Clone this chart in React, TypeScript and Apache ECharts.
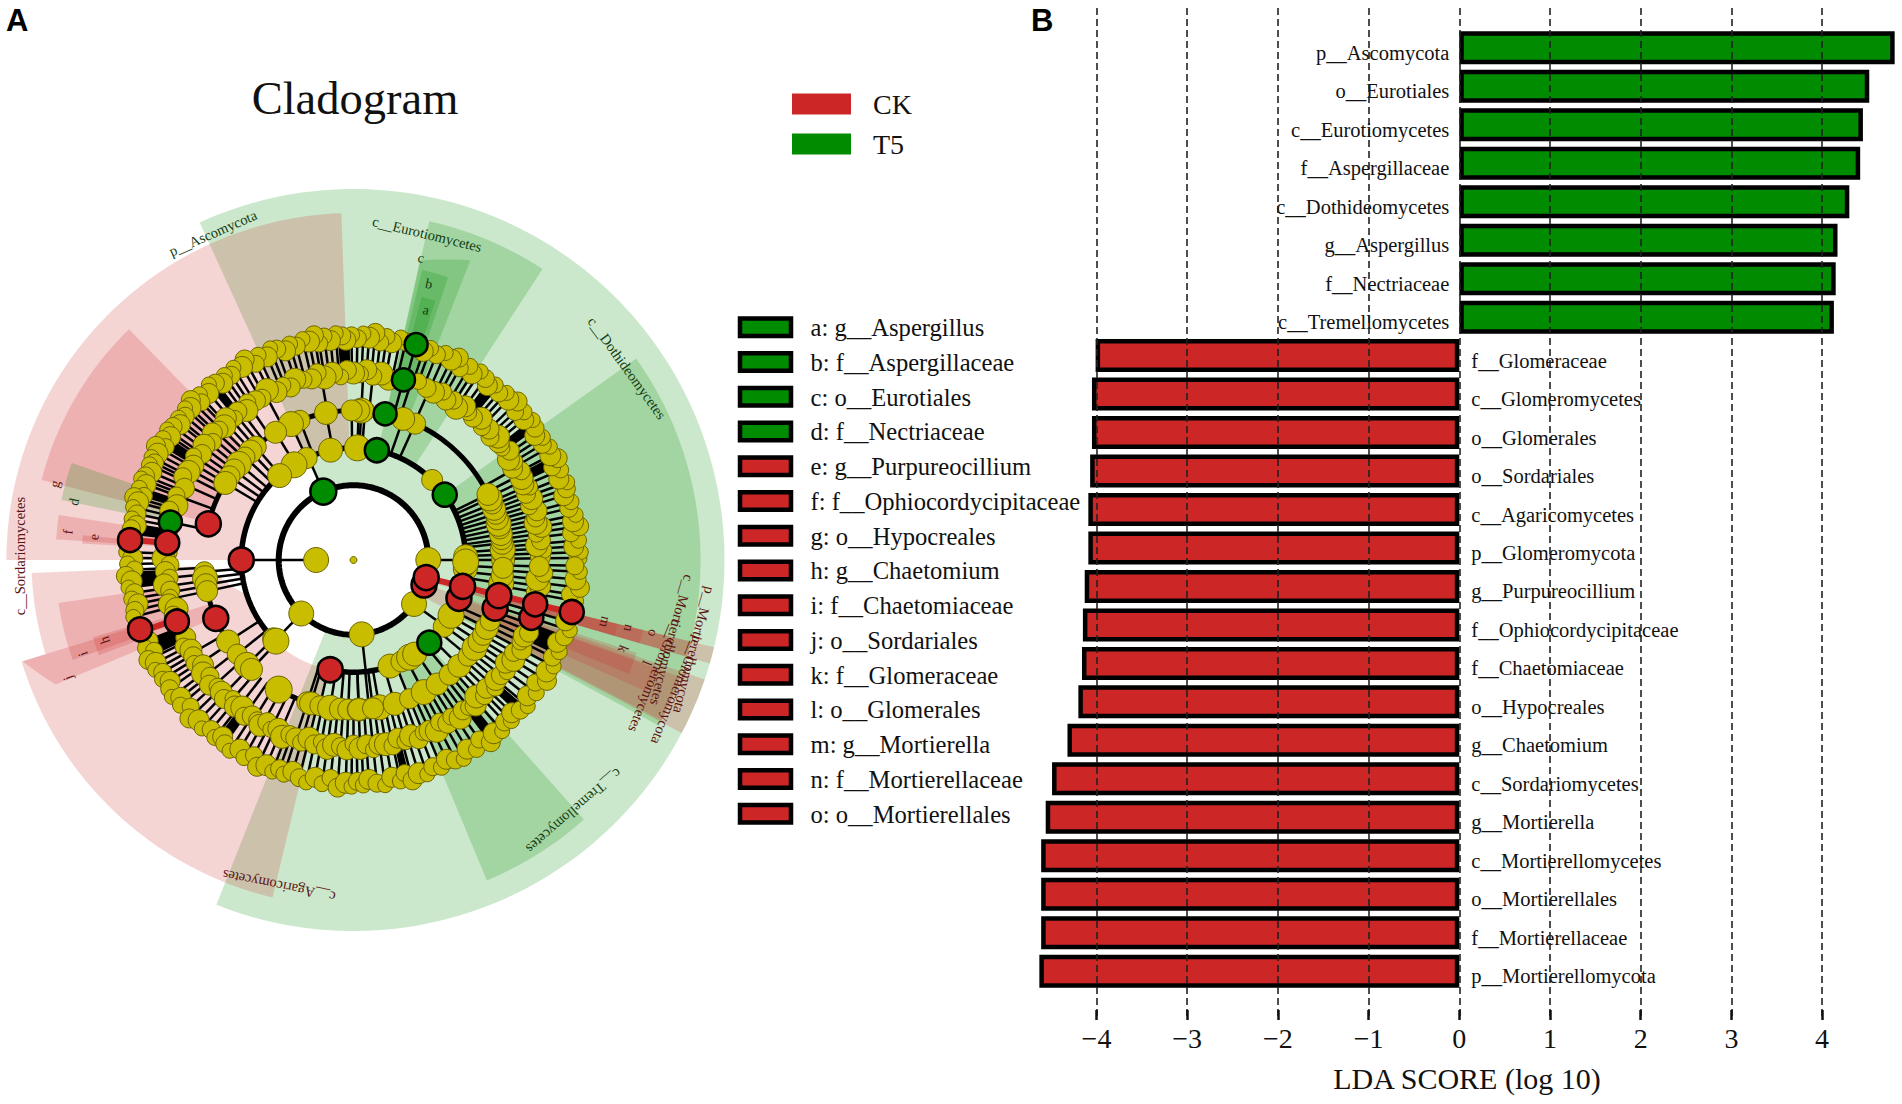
import React, { useEffect, useRef } from "react";
import * as echarts from "echarts";

const SERIF = "Liberation Serif";
const RED = "#cd2626";
const GREEN = "#008b00";
const YELLOW = "#c9bd00";

// ---------- Panel B data ----------
const categories = [
  "p__Ascomycota", "o__Eurotiales", "c__Eurotiomycetes", "f__Aspergillaceae", "c__Dothideomycetes",
  "g__Aspergillus", "f__Nectriaceae", "c__Tremellomycetes", "f__Glomeraceae", "c__Glomeromycetes",
  "o__Glomerales", "o__Sordariales", "c__Agaricomycetes", "p__Glomeromycota", "g__Purpureocillium",
  "f__Ophiocordycipitaceae", "f__Chaetomiaceae", "o__Hypocreales", "g__Chaetomium", "c__Sordariomycetes",
  "g__Mortierella", "c__Mortierellomycetes", "o__Mortierellales", "f__Mortierellaceae", "p__Mortierellomycota",
];
const t5Values = [4.8, 4.52, 4.45, 4.42, 4.3, 4.17, 4.15, 4.13, null, null, null, null, null, null, null, null, null, null, null, null, null, null, null, null, null];
const ckValues = [null, null, null, null, null, null, null, null, -4.01, -4.05, -4.05, -4.07, -4.09, -4.09, -4.13, -4.15, -4.16, -4.2, -4.32, -4.49, -4.56, -4.61, -4.61, -4.61, -4.63];
const xTicks = [-4, -3, -2, -1, 0, 1, 2, 3, 4];

// ---------- Panel A legend ----------
const cladeKeys = [
  "a: g__Aspergillus", "b: f__Aspergillaceae", "c: o__Eurotiales", "d: f__Nectriaceae", "e: g__Purpureocillium",
  "f: f__Ophiocordycipitaceae", "g: o__Hypocreales", "h: g__Chaetomium", "i: f__Chaetomiaceae", "j: o__Sordariales",
  "k: f__Glomeraceae", "l: o__Glomerales", "m: g__Mortierella", "n: f__Mortierellaceae", "o: o__Mortierellales",
];
const cladeIsGreen = [1, 1, 1, 1, 0, 0, 0, 0, 0, 0, 0, 0, 0, 0, 0];

// ---------- Cladogram data: angle in degrees (counter-clockwise from east), radius in tree levels ----------
const level1Yellow = [180];
const level2Yellow = [0, 225.7, 276.3, 324];
const level2Green = [113.8];
const level2Red = [340.5, 346.4];
const level3Yellow = [1.7, 45.5, 88, 101.8, 114.7, 122, 131.2, 224.3, 226.3, 289, 295.3, 300, 303, 323.5, 330.4, 355.5, 357, 359];
const level3Green = [35.6, 78, 312.5];
const level3Red = [180, 258, 340, 346.4];
const level4Yellow = [0, 2, 4, 6.4, 8, 10, 12, 14, 16, 18, 20, 22, 24.3, 26, 65.7, 70.6, 85.6, 87, 88, 90.7, 100.6, 111, 114.7, 121.4, 130.8, 133.5, 136.5, 140, 143, 146, 149, 184.5, 187, 189.5, 192, 213, 219, 224.5, 227, 252, 253.5, 257, 261, 265, 268, 272, 276, 280, 272, 277.5, 286, 292, 298, 304, 310, 315, 320, 324, 327, 330, 333, 336, 351, 354, 357];
const level4YellowLarge = [240];
const level4Green = [77.8];
const level4Red = [166, 203, 341.2, 346.2];
const level5Yellow = [1, 3, 4.5, 6, 8, 10, 11.5, 13, 15, 17, 19, 21, 22.5, 24, 26, 28, 30, 31.5, 33, 35, 37, 39, 40.5, 42, 44, 46, 48, 50, 52, 54, 56, 58, 60, 62, 64.5, 67, 70, 79, 81.5, 84, 86, 88, 90, 92, 94, 96.5, 99, 101, 103, 105.5, 108, 110, 112, 114.6, 117, 119.5, 121.6, 124, 125.5, 128, 130, 132, 134, 136, 138, 140, 142.5, 145, 147, 149.5, 151.9, 154, 157, 160, 162.9, 165, 171, 177.5, 179.5, 181.5, 183.5, 185.5, 187.5, 189.5, 191.5, 193.5, 195.5, 197, 204.8, 207, 209, 211, 213, 215, 217, 219, 221, 223, 225, 227, 229, 231, 233, 235, 237, 239, 240.5, 242, 244, 246, 248, 250, 252, 254, 256, 258, 260, 262, 264, 266, 268, 270, 272, 274, 276, 278, 280, 282, 284, 286, 288, 290, 292, 294, 296, 298, 300, 302, 304, 306, 308, 310, 312, 314, 316, 318, 320, 322, 324, 326, 328, 330, 332, 334, 336, 337.5, 350, 352, 354, 356, 358];
const level5Green = [74.5, 168.3];
const level5Red = [174.7, 199.2, 342, 346.3];
const level6Yellow = [0.5, 2, 3.5, 5, 7, 8.5, 10, 11.5, 13.5, 15, 17, 18.5, 20, 21.5, 23.5, 25, 26.5, 28, 30, 31.5, 33, 34.5, 36, 38, 39.5, 41, 42.5, 44, 46, 47.5, 49, 51, 52.5, 54, 56, 57.5, 59, 61, 62.5, 64, 66, 68, 70, 71.5, 76.5, 78, 80, 81.5, 83, 84.5, 86, 87.5, 89, 90.5, 92, 93, 94.5, 96, 97.5, 99, 100, 101.5, 103, 105, 106.5, 108, 110, 111.5, 113, 115, 116.5, 118.5, 120, 122, 123.5, 125, 126.5, 128, 129.5, 131, 133, 134, 135.5, 137, 138, 139.5, 141, 142, 143.5, 145, 146, 147.5, 149, 150, 151.5, 153, 154, 155, 156.5, 158, 159, 160, 161.5, 163, 164, 165, 166.5, 168, 169.5, 171, 172, 178, 179.5, 181, 182.5, 184, 185.5, 187, 188.5, 190, 191.5, 193, 194.5, 201.5, 203, 204.5, 206, 207.5, 209, 210.5, 212, 213.5, 215, 217, 218.5, 220, 222, 224, 226, 228, 230, 232, 233.5, 235, 237, 239, 241, 243, 245, 247, 249, 250.5, 252, 254, 256, 258, 260, 262, 264, 266, 268, 269.5, 271, 272.5, 274, 276, 278, 280, 282, 283.5, 285, 287, 289, 291, 293, 295, 297, 299, 301, 303, 305, 307, 309, 311, 313, 314.5, 316, 318, 320, 322, 324, 326, 328, 330, 332, 334, 336, 338, 340, 342, 344, 349.5, 351, 353, 355, 357, 358.5];
const level6Green = [73.8];
const level6Red = [174.9, 198, 346.6];
const level5Links = [0.5, 2, 3.5, 5, 6.5, 8, 9.5, 11, 12.5, 14, 15.5, 17, 18.5, 20, 21.5, 23, 25, 27, 29.5, 66, 72, 84, 87, 100, 118, 124, 127, 129, 131, 133, 135, 137, 139, 141, 143, 145, 147, 149, 151, 153, 156, 160, 183, 185.5, 188, 190, 192, 210, 214, 218, 222, 226, 229, 232, 235, 238, 241, 244, 247, 252, 254, 256, 258, 260, 262, 264, 266, 268, 270, 272, 274, 276, 278, 280, 282, 284, 286, 288, 290, 292, 294, 296, 298, 300, 302, 304, 306, 308, 310, 312, 314, 316, 318, 320, 322, 324, 326, 328, 330, 332, 334, 336, 338, 340, 342, 344, 350, 352, 354, 356, 358];
const level3Links = [0, 113.8, 180, 225.7, 276.3, 324];
const level2Links = [180];
const redBranches = [
  [346.4, 2, 3], [346.4, 3, 4], [346.4, 4, 5], [346.4, 5, 6], [174.8, 5, 6], [198.6, 5, 6],
];
// level, from angle, to angle, line width
const arcs = [
  [2, 0, 344, 6], [3, 0, 224, 5.5], [3, 258, 289, 5.5], [4, 26.6, 170, 5], [4, 192, 213, 5], [4, 240, 252, 5],
];
// from angle, to angle, inner radius at both ends, outer radius at both ends, clade colour
const highlights: [number, number, number, number, number, number, string][] = [
  [248.3, 474.5, 2, 2, 9.92, 9.92, "g"],
  [57, 77.4, 3, 3, 9.28, 9.28, "g"],
  [68.7, 77.5, 4, 4, 8.6, 8.2, "g"],
  [71.5, 76.7, 5, 5, 7.97, 7.97, "g"],
  [72.5, 75.5, 6, 6, 7.27, 7.27, "g"],
  [331.5, 395.5, 3, 3, 9.28, 9.28, "g"],
  [292.6, 311.6, 3, 3, 9.28, 9.28, "g"],
  [92, 180, 3, 3, 9.28, 9.28, "r"],
  [182.3, 197, 3.9, 3.05, 8.61, 8.61, "r"],
  [197, 256.5, 3.05, 3, 9.28, 9.28, "r"],
  [134.2, 165.6, 4, 4, 8.61, 8.61, "r"],
  [171.3, 176, 5, 5, 7.97, 7.97, "r"],
  [174.8, 176.5, 6, 6, 7.27, 7.27, "r"],
  [197, 202.7, 4, 4, 9.25, 8.63, "r"],
  [188.3, 199.6, 5, 5, 7.97, 7.97, "r"],
  [196.5, 200.5, 6, 6, 7.27, 7.27, "r"],
  [161, 168.4, 5, 5, 7.97, 7.97, "g"],
  [332.2, 341.2, 2, 2, 9.92, 9.92, "r"],
  [332.5, 340.3, 3, 3, 9.28, 9.28, "r"],
  [335.8, 340.6, 4, 4, 8.61, 8.61, "r"],
  [337.5, 341.8, 5, 5, 7.97, 7.97, "r"],
  [343.8, 346.4, 2, 2, 9.92, 9.92, "r"],
  [343.8, 346.4, 3, 3, 9.28, 9.28, "r"],
  [343.8, 346.4, 4, 4, 8.61, 8.61, "r"],
  [343.8, 346.4, 5, 5, 7.97, 7.97, "r"],
  [343.8, 346.4, 6, 6, 7.27, 7.27, "r"],
];
// dense packs of leaf branches: from angle, to angle, inner, outer level
const branchPacks = [
  [170.5, 173.5, 5.1, 5.75], [183, 187, 5.1, 5.75], [201, 205.5, 5.1, 5.8], [335, 340, 5.1, 5.8], [50, 53, 5.1, 5.8],
  [91, 94, 5.1, 5.8], [36, 38, 5.1, 5.8], [25, 27.5, 5.1, 5.8], [232.5, 235, 5.1, 5.8], [127.5, 129.5, 5.1, 5.8],
  [146.5, 149, 5.1, 5.8], [161, 163, 5.1, 5.8], [282.5, 284.5, 5.1, 5.8], [307, 309.5, 5.1, 5.8], [317, 319.5, 5.1, 5.8],
];

const sizes6 = [18, 15, 20, 16, 17, 19, 21, 15, 18, 16, 20];
const sizes5 = [20, 17, 22, 19, 16, 21, 23, 18];
const sizes4 = [23, 20, 25, 22, 21];
const sizes3 = [24, 21, 26];
const wobble6 = [0, 0.08, -0.1, 0.04, -0.14, 0.1, -0.04, 0.06, -0.08, 0.02, -0.12];
const wobble5 = [0, 0.08, -0.09, 0.04, -0.06, 0.1, -0.03];

// text, x, y, rotation in degrees, colour
const DR = "#5c1212";
const DG = "#123d12";
const cladeLabels: [string, number, number, number, string, number][] = [
  ["p__Ascomycota", 213, 233, 23.6, DG, 14.5],
  ["c__Eurotiomycetes", 427, 234, -13.6, DG, 14.5],
  ["c", 421, 258, -13, DG, 14],
  ["b", 429, 284, -13, DG, 14],
  ["a", 426, 310, -13, DG, 14],
  ["c__Dothideomycetes", 627, 368, -54, DG, 14.5],
  ["p__Mortierellomycota", 694, 650, -104.5, DR, 14.5],
  ["p__Glomeromycota", 677, 690, -112, DR, 14.5],
  ["c__Mortierellomycetes", 672, 640, -105, DR, 14.5],
  ["c__Glomeromycetes", 655, 676, -112, DR, 14.5],
  ["m", 605, 622, -105, DR, 14],
  ["n", 629, 628, -105, DR, 14],
  ["o", 653, 633, -105, DR, 14],
  ["k", 623, 649, -112, DR, 14],
  ["l", 647, 663, -112, DR, 14],
  ["c__Tremellomycetes", 574, 811, -139, DG, 14.5],
  ["c__Agaricomycetes", 279, 886, 168.6, DR, 14.5],
  ["c__Sordariomycetes", 20, 556, 90, DR, 14.5],
  ["g", 55, 484, 76, DR, 14],
  ["d", 74, 502, 78, DG, 14],
  ["f", 68, 532, 84, DR, 14],
  ["e", 94, 537, 85, DR, 14],
  ["h", 105, 640, 108, DR, 14],
  ["i", 83, 654, 109, DR, 14],
  ["j", 68, 678, 110, DR, 14],
];

const renderHighlight = (list: any[]) => (params: any, api: any) => {
  const h = list[params.dataIndex];
  const [a0, a1, r0a, r0b, r1a, r1b] = h;
  const n = Math.max(2, Math.ceil((a1 - a0) / 1.5));
  const pts: number[][] = [];
  for (let i = 0; i <= n; i++) {
    const t = i / n;
    pts.push(api.coord([r1a + (r1b - r1a) * t, (a0 + (a1 - a0) * t) % 360]));
  }
  for (let i = n; i >= 0; i--) {
    const t = i / n;
    pts.push(api.coord([r0a + (r0b - r0a) * t, (a0 + (a1 - a0) * t) % 360]));
  }
  const fill = h[6] === "g" ? "rgba(0,139,0,0.2)" : h[6] === "r" ? "rgba(205,38,38,0.2)" : "#000";
  return { type: "polygon", shape: { points: pts }, style: { fill, stroke: "none" }, silent: true };
};

const renderLink = (color: string, width: number) => (_: any, api: any) => {
  const p0 = api.coord([api.value(1), api.value(0)]);
  const p1 = api.coord([api.value(2), api.value(0)]);
  return { type: "line", shape: { x1: p0[0], y1: p0[1], x2: p1[0], y2: p1[1] }, style: { stroke: color, lineWidth: width }, silent: true };
};

const renderArc = (params: any, api: any) => {
  const [lvl, a0, a1, w] = arcs[params.dataIndex];
  const pts: number[][] = [];
  for (let a = a0; a < a1; a += 1.5) pts.push(api.coord([lvl, a]));
  pts.push(api.coord([lvl, a1]));
  return { type: "polyline", shape: { points: pts }, style: { stroke: "#000", fill: "none", lineWidth: w }, silent: true };
};

function nodeSeries(angles: number[], level: number, color: string, size: number | number[], z: number, wobble: number[] = [0]) {
  return {
    type: "scatter",
    coordinateSystem: "polar",
    silent: true,
    z,
    data: angles.map((a, i) => [level + wobble[i % wobble.length], a]),
    symbol: "circle",
    symbolSize: Array.isArray(size) ? (_: any, p: any) => size[p.dataIndex % size.length] : size,
    itemStyle: {
      color,
      opacity: 1,
      borderColor: color === YELLOW ? "#6d6600" : "#000",
      borderWidth: color === YELLOW ? 1 : 2.5,
    },
  };
}

const linkRows = (angles: number[], inner: number, outer: number) => angles.map((a) => [a, inner, outer]);

export default function App() {
  const ref = useRef<HTMLDivElement>(null);
  useEffect(() => {
    document.body.style.margin = "0";
    document.body.style.overflow = "hidden";
    const chart = echarts.init(ref.current!, null, { renderer: "svg" });

    const cladeGraphics: any[] = [];
    cladeKeys.forEach((k, i) => {
      const top = 318.5 + i * 34.75;
      cladeGraphics.push({
        type: "rect", shape: { x: 740, y: top, width: 51, height: 17.5 },
        style: { fill: cladeIsGreen[i] ? GREEN : RED, stroke: "#000", lineWidth: 4.5 }, silent: true,
      });
      cladeGraphics.push({
        type: "text", x: 810.5, y: top + 9,
        style: { text: k, fontFamily: SERIF, fontSize: 24.6, fill: "#111", verticalAlign: "middle", align: "left" }, silent: true,
      });
    });
    const labelGraphics = cladeLabels.map(([text, x, y, rot, color, fs]) => ({
      type: "text", x, y, rotation: (rot * Math.PI) / 180,
      style: { text, fontFamily: SERIF, fontSize: fs, fill: color, align: "center", verticalAlign: "middle" },
      silent: true, z: 20,
    }));

    const axisMin = -5;
    const axisMax = 4.85;
    const gridLeft = 1459.3 + axisMin * 90.7;
    const gridWidth = (axisMax - axisMin) * 90.7;

    chart.setOption({
      animation: false,
      backgroundColor: "#fff",
      legend: {
        orient: "vertical", left: 787, top: 85, itemWidth: 59, itemHeight: 21, itemGap: 12, selectedMode: false,
        icon: "rect",
        data: [
          { name: "CK", itemStyle: { color: RED, borderWidth: 0 } },
          { name: "T5", itemStyle: { color: GREEN, borderWidth: 0 } },
        ],
        textStyle: { fontFamily: SERIF, fontSize: 28, color: "#111", padding: [0, 0, 0, 17] },
      },
      polar: { center: [353.5, 560], radius: 374 },
      radiusAxis: { type: "value", min: 0, max: 10, show: false, axisLine: { show: false }, splitLine: { show: false }, axisTick: { show: false }, axisLabel: { show: false } },
      angleAxis: { type: "value", min: 0, max: 360, startAngle: 0, clockwise: false, show: false, axisLine: { show: false }, splitLine: { show: false }, axisTick: { show: false }, axisLabel: { show: false } },
      grid: [
        { left: gridLeft, top: 28.6, width: gridWidth, height: 961.8 },
        { left: gridLeft, top: 8, width: gridWidth, height: 1012 },
      ],
      xAxis: [
        { gridIndex: 0, type: "value", min: axisMin, max: axisMax, show: false },
        {
          gridIndex: 1, type: "value", min: axisMin, max: axisMax, interval: 1, z: 6,
          axisLine: { show: false },
          axisTick: { show: true, inside: true, length: 10, customValues: xTicks, lineStyle: { color: "#111", width: 2.5 } },
          axisLabel: {
            customValues: xTicks, margin: 4, fontFamily: SERIF, fontSize: 28, color: "#111",
            formatter: (v: number) => (v < 0 ? "\u2212" + Math.abs(v) : String(v)),
          },
          splitLine: { show: true, customValues: xTicks, lineStyle: { color: "#222", width: 1.6, type: [7, 4] } },
        },
      ],
      yAxis: [
        { gridIndex: 0, type: "category", data: categories, inverse: true, show: false },
        { gridIndex: 1, type: "value", min: 0, max: 1, show: false },
      ],
      graphic: [
        { type: "text", x: 355, y: 122, style: { text: "Cladogram", fontFamily: SERIF, fontSize: 46.5, fill: "#111", align: "center", verticalAlign: "bottom" }, silent: true },
        { type: "text", x: 6, y: 20, style: { text: "A", fontFamily: "Liberation Sans", fontWeight: "bold", fontSize: 31, fill: "#000", align: "left", verticalAlign: "middle" }, silent: true },
        { type: "text", x: 1031, y: 20, style: { text: "B", fontFamily: "Liberation Sans", fontWeight: "bold", fontSize: 31, fill: "#000", align: "left", verticalAlign: "middle" }, silent: true },
        { type: "text", x: 1467, y: 1078, style: { text: "LDA SCORE (log 10)", fontFamily: SERIF, fontSize: 30, fill: "#111", align: "center", verticalAlign: "middle" }, silent: true },
        ...cladeGraphics,
        ...labelGraphics,
      ],
      series: [
        {
          name: "T5", type: "bar", stack: "lda", xAxisIndex: 0, yAxisIndex: 0, data: t5Values, barWidth: 33, z: 2, silent: true,
          itemStyle: { color: GREEN, borderColor: "#000", borderWidth: 4.5 },
          label: { show: true, position: "left", distance: 10, offset: [0, 5], formatter: (p: any) => p.name, fontFamily: SERIF, fontSize: 20.5, color: "#111" },
        },
        {
          name: "CK", type: "bar", stack: "lda", xAxisIndex: 0, yAxisIndex: 0, data: ckValues, barWidth: 33, z: 2, silent: true,
          itemStyle: { color: RED, borderColor: "#000", borderWidth: 4.5 },
          label: { show: true, position: "right", distance: 12, offset: [0, 5], formatter: (p: any) => p.name, fontFamily: SERIF, fontSize: 20.5, color: "#111" },
        },
        { type: "custom", coordinateSystem: "polar", silent: true, z: 1, clip: false, data: highlights.map((h) => h.slice(0, 6)), renderItem: renderHighlight(highlights) },
        { type: "custom", coordinateSystem: "polar", silent: true, z: 2, clip: false, data: branchPacks.map((b) => b), renderItem: renderHighlight(branchPacks.map((b) => [b[0], b[1], b[2], b[2], b[3], b[3], "k"])) },
        { type: "custom", coordinateSystem: "polar", silent: true, z: 3, clip: false, data: [...linkRows(level6Yellow, 5, 6), ...linkRows(level6Green, 5, 6), ...linkRows(level5Links, 4, 5), ...linkRows(level5Green, 4, 5), ...linkRows(level4Yellow, 3, 4), ...linkRows(level3Links, 2, 3), ...linkRows(level2Links, 1, 2)], renderItem: renderLink("#000", 2.5) },
        { type: "custom", coordinateSystem: "polar", silent: true, z: 4, clip: false, data: redBranches, renderItem: renderLink(RED, 6) },
        { type: "custom", coordinateSystem: "polar", silent: true, z: 4, clip: false, data: arcs.map((a) => a), renderItem: renderArc },
        nodeSeries(level6Yellow, 6, YELLOW, sizes6, 5, wobble6),
        nodeSeries(level5Yellow, 5, YELLOW, sizes5, 5, wobble5),
        nodeSeries(level4Yellow, 4, YELLOW, sizes4, 5),
        nodeSeries(level4YellowLarge, 4, YELLOW, 27, 5),
        nodeSeries(level3Yellow, 3, YELLOW, sizes3, 5),
        nodeSeries(level2Yellow, 2, YELLOW, 25, 5),
        nodeSeries(level1Yellow, 1, YELLOW, 25, 5),
        nodeSeries([0], 0, YELLOW, 7, 5),
        nodeSeries(level6Green, 6, GREEN, 23, 6),
        nodeSeries(level5Green, 5, GREEN, 23, 6),
        nodeSeries(level4Green, 4, GREEN, 23, 6),
        nodeSeries(level3Green, 3, GREEN, 24, 6),
        nodeSeries(level2Green, 2, GREEN, 26, 6),
        nodeSeries(level2Red, 2, RED, 25, 6),
        nodeSeries(level3Red, 3, RED, 25, 6),
        nodeSeries(level4Red, 4, RED, 25, 6),
        nodeSeries(level5Red, 5, RED, 24, 6),
        nodeSeries(level6Red, 6, RED, 24, 7),
      ],
    });
    return () => chart.dispose();
  }, []);
  return <div ref={ref} style={{ position: "absolute", left: 0, top: 0, width: 1902, height: 1104 }} />;
}
